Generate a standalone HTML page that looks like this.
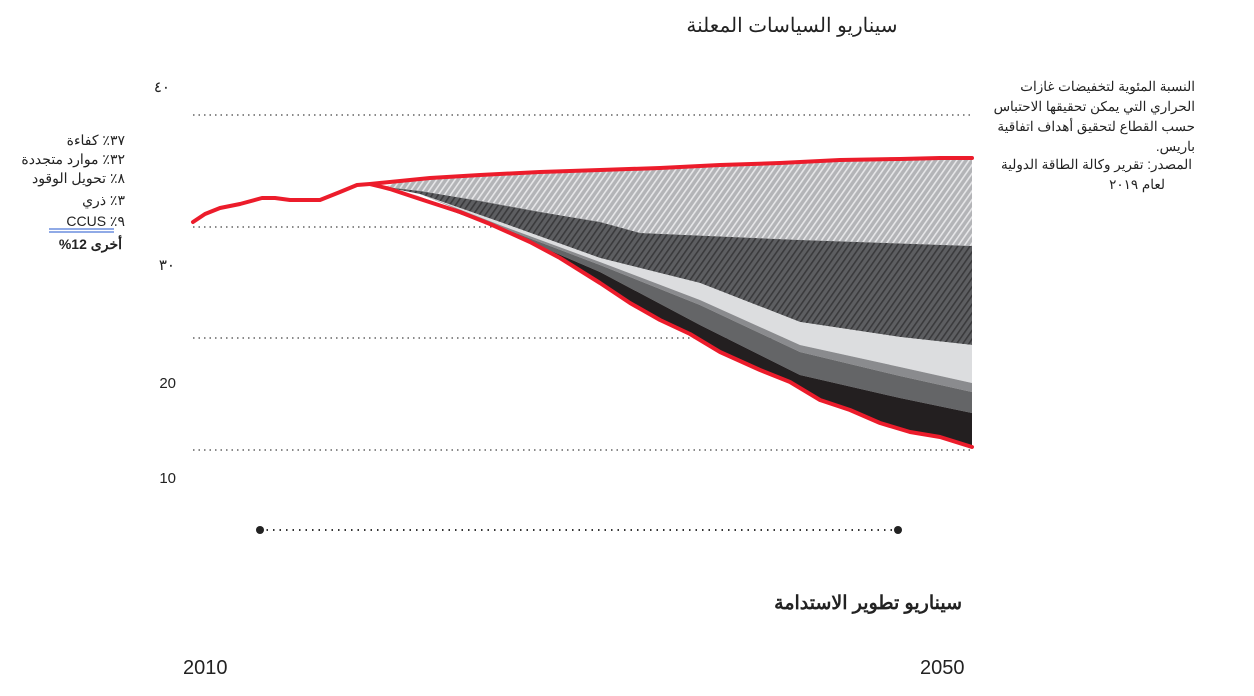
<!DOCTYPE html>
<html><head><meta charset="utf-8"><style>
body{margin:0;background:#fff;}
svg{display:block;font-family:"Liberation Sans","Noto Sans CJK SC",sans-serif;}
</style></head><body>
<svg width="1254" height="696" viewBox="0 0 1254 696" xmlns="http://www.w3.org/2000/svg">
<defs>
<pattern id="hl" patternUnits="userSpaceOnUse" width="5" height="5" patternTransform="rotate(35)">
<rect width="5" height="5" fill="#b3b4b7"/><rect width="1.6" height="5" fill="#e6e6e8"/></pattern>
<pattern id="hd" patternUnits="userSpaceOnUse" width="5" height="5" patternTransform="rotate(35)">
<rect width="5" height="5" fill="#5d5e61"/><rect width="1.6" height="5" fill="#3a3a3c"/></pattern>
</defs>
<g stroke="#444" stroke-width="1.3" stroke-dasharray="1.5 4">
<line x1="193" y1="115" x2="972" y2="115"/><line x1="193" y1="227" x2="972" y2="227"/>
<line x1="193" y1="338" x2="972" y2="338"/><line x1="193" y1="450" x2="972" y2="450"/>
</g>
<path d="M385,187 L400,181 430,178 480,175 540,172 600,170 660,168 720,165 780,163 840,160 900,159 940,158 972,158 L972,246 800,240 640,233 600,222 540,212 480,201 420,191 Z" fill="url(#hl)"/>
<path d="M385,187 L420,191 480,201 540,212 600,222 640,233 800,240 972,246 L972,345 900,337 800,322 700,283 600,258 500,222 420,194 Z" fill="url(#hd)"/>
<path d="M420,194 L500,222 600,258 700,283 800,322 900,337 972,345 L972,383 900,367 800,345 700,300 600,262 500,225 Z" fill="#dcdddf"/>
<path d="M420,194 L500,225 600,262 700,300 800,345 900,367 972,383 L972,392 900,376 800,352 700,305 600,265 500,227 Z" fill="#8a8b8e"/>
<path d="M410,193 L500,227 600,265 700,305 800,352 900,376 972,392 L972,413 900,398 800,375 700,325 600,272 500,229 Z" fill="#646567"/>
<path d="M395,190 L500,229 600,272 700,325 800,375 900,398 972,413 L972,447 940,437 910,432 880,423 850,410 820,400 790,382 760,370 720,352 690,334 660,320 630,303 600,283 560,258 530,242 490,224 460,212 420,199 Z" fill="#231f20"/>
<g fill="none" stroke="#ec1c2b" stroke-width="4" stroke-linejoin="round" stroke-linecap="round">
<path d="M193,222 L205,214 220,208 240,204 262,198 275,198 290,200 320,200 340,192 357,185 370,184 400,181 430,178 480,175 540,172 600,170 660,168 720,165 780,163 840,160 900,159 940,158 972,158"/>
<path d="M370,184 L390,189 420,199 460,212 490,224 530,242 560,258 600,283 630,303 660,320 690,334 720,352 760,370 790,382 820,400 850,410 880,423 910,432 940,437 972,447"/>
</g>
<g font-size="15" fill="#222">
<text x="170" y="92" text-anchor="end">٤٠</text>
<text x="175" y="270" text-anchor="end">٣٠</text>
<text x="176" y="388" text-anchor="end">20</text>
<text x="176" y="483" text-anchor="end">10</text>
</g>
<g font-size="14" fill="#222" text-anchor="start" direction="rtl">
<text x="125" y="145">٣٧٪ كفاءة</text>
<text x="125" y="164">٣٢٪ موارد متجددة</text>
<text x="125" y="183">٨٪ تحويل الوقود</text>
<text x="125" y="205">٣٪ ذري</text>
<text x="125" y="226">٩٪ CCUS</text>
<text x="122" y="249" font-weight="bold">أخرى 12%</text>
</g>
<line x1="49" y1="229" x2="114" y2="229" stroke="#2255cc" stroke-width="1"/>
<line x1="49" y1="232" x2="114" y2="232" stroke="#2255cc" stroke-width="1"/>
<g font-size="13.5" fill="#222" text-anchor="start" direction="rtl">
<text x="1195" y="91">النسبة المئوية لتخفيضات غازات</text>
<text x="1195" y="111">الحراري التي يمكن تحقيقها   الاحتباس</text>
<text x="1195" y="131">حسب القطاع لتحقيق أهداف اتفاقية</text>
<text x="1195" y="151">باريس.</text>
<text x="1192" y="169">المصدر: تقرير وكالة الطاقة الدولية</text>
<text x="1165" y="189">لعام ٢٠١٩</text>
</g>
<text x="792" y="32" font-size="20" fill="#222" text-anchor="middle" direction="rtl">سيناريو السياسات المعلنة</text>
<text x="962" y="609" font-size="19" font-weight="bold" fill="#222" text-anchor="start" direction="rtl">سيناريو تطوير الاستدامة</text>
<line x1="260" y1="530" x2="898" y2="530" stroke="#333" stroke-width="2" stroke-dasharray="1.5 5"/>
<circle cx="260" cy="530" r="4" fill="#222"/><circle cx="898" cy="530" r="4" fill="#222"/>
<text x="183" y="674" font-size="20" fill="#222">2010</text>
<text x="920" y="674" font-size="20" fill="#222">2050</text>
</svg>
</body></html>
